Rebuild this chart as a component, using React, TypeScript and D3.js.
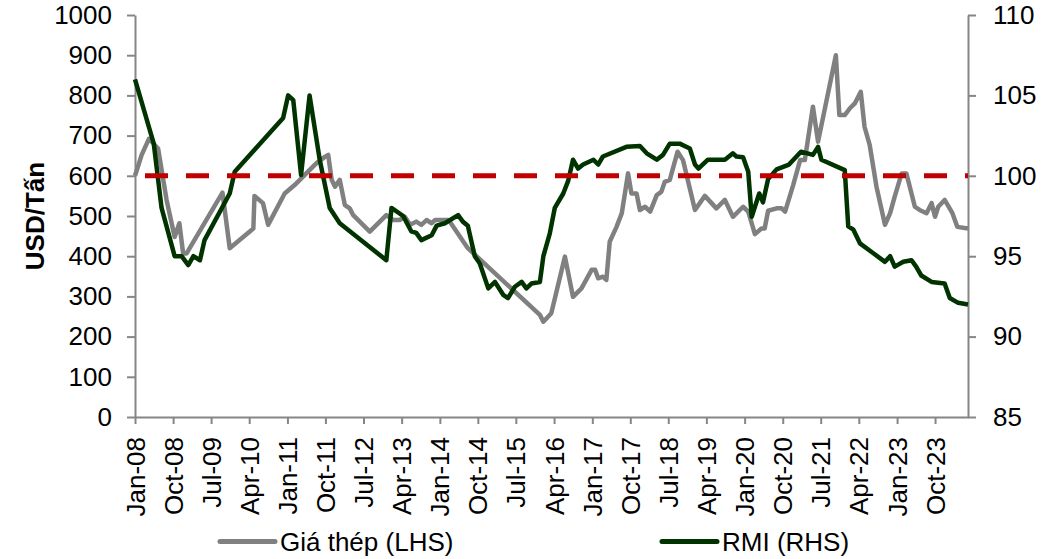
import React, { useEffect, useRef } from 'react';
import * as d3 from 'd3';

// Giá thép (LHS, USD/Tấn)
const steelDates = [
  '2008-01-01', '2008-02-18', '2008-04-10', '2008-06-15', '2008-08-15', '2008-10-12', '2008-11-15', '2008-12-12',
  '2009-01-06', '2009-09-21', '2009-11-12', '2010-05-01', '2010-05-09', '2010-07-09', '2010-08-15', '2010-12-12',
  '2011-03-06', '2011-07-27', '2011-09-27', '2011-10-21', '2011-11-15', '2011-12-09', '2012-01-12', '2012-02-18',
  '2012-03-24', '2012-04-18', '2012-08-15', '2012-12-12', '2013-02-01', '2013-03-18', '2013-04-24', '2013-06-01',
  '2013-07-15', '2013-08-21', '2013-09-27', '2013-11-03', '2013-11-27', '2014-03-01', '2014-03-15', '2014-07-21',
  '2015-12-21', '2016-01-15', '2016-03-12', '2016-06-18', '2016-08-15', '2016-10-15', '2016-12-27', '2017-01-21',
  '2017-02-12', '2017-03-18', '2017-04-12', '2017-05-06', '2017-06-24', '2017-08-01', '2017-09-15', '2017-10-09',
  '2017-11-15', '2017-12-09', '2018-01-15', '2018-02-21', '2018-04-09', '2018-05-12', '2018-06-06', '2018-07-12',
  '2018-09-06', '2018-10-15', '2019-01-09', '2019-03-21', '2019-06-12', '2019-08-12', '2019-10-09', '2019-12-21',
  '2020-01-27', '2020-03-15', '2020-05-01', '2020-05-24', '2020-06-18', '2020-08-18', '2020-09-24', '2020-10-18',
  '2020-12-15', '2021-02-03', '2021-03-09', '2021-05-06', '2021-06-12', '2021-10-18', '2021-11-12', '2021-12-21',
  '2022-01-27', '2022-03-03', '2022-04-15', '2022-05-12', '2022-06-18', '2022-08-06', '2022-10-06', '2022-11-12',
  '2022-12-15', '2023-02-03', '2023-03-09', '2023-05-09', '2023-06-12', '2023-08-01', '2023-09-06', '2023-10-01',
  '2023-10-24', '2023-12-09', '2024-02-03', '2024-03-09', '2024-05-25',
];
const steelValues = [
  600, 652, 692, 668, 540, 448, 482, 407,
  407, 558, 420, 469, 550, 532, 478, 556,
  581, 631, 647, 652, 590, 573, 590, 527,
  519, 502, 461, 502, 490, 490, 498, 478,
  486, 478, 490, 482, 490, 490, 485, 420,
  254, 237, 258, 399, 299, 320, 366, 366,
  345, 349, 341, 436, 473, 507, 606, 556,
  556, 515, 523, 511, 552, 560, 585, 590,
  660, 639, 515, 550, 519, 540, 498, 523,
  511, 455, 469, 469, 513, 519, 519, 511,
  577, 639, 639, 772, 685, 900, 751, 751,
  768, 780, 809, 722, 677, 573, 478, 507,
  548, 606, 606, 523, 515, 507, 532, 498,
  523, 540, 507, 473, 469,
];

// RMI (RHS)
const rmiDates = [
  '2008-01-01', '2008-05-15', '2008-07-10', '2008-10-12', '2008-12-01', '2009-01-18', '2009-02-24', '2009-04-12',
  '2009-05-15', '2009-11-12', '2009-12-18', '2010-12-01', '2011-01-06', '2011-02-12', '2011-04-09', '2011-06-09',
  '2011-08-21', '2011-11-01', '2012-01-12', '2012-12-12', '2013-01-18', '2013-04-12', '2013-06-09', '2013-07-15',
  '2013-08-21', '2013-11-03', '2013-12-09', '2014-02-06', '2014-05-12', '2014-06-15', '2014-07-21', '2014-09-09',
  '2014-10-15', '2014-12-15', '2015-02-01', '2015-04-01', '2015-05-06', '2015-06-24', '2015-08-12', '2015-09-15',
  '2015-10-21', '2015-12-21', '2016-01-15', '2016-03-01', '2016-04-06', '2016-06-06', '2016-07-12', '2016-08-15',
  '2016-09-21', '2016-10-27', '2017-01-09', '2017-02-12', '2017-03-18', '2017-09-03', '2017-12-09', '2018-01-27',
  '2018-04-09', '2018-05-24', '2018-07-12', '2018-09-21', '2018-12-03', '2019-01-09', '2019-02-03', '2019-04-12',
  '2019-06-12', '2019-08-12', '2019-10-09', '2019-11-03', '2019-12-21', '2020-01-27', '2020-02-21', '2020-04-15',
  '2020-05-12', '2020-06-18', '2020-08-18', '2020-11-15', '2021-02-09', '2021-05-06', '2021-06-12', '2021-07-06',
  '2021-12-21', '2022-01-15', '2022-02-21', '2022-04-09', '2022-07-12', '2022-10-06', '2022-11-12', '2022-12-15',
  '2023-02-15', '2023-04-15', '2023-05-18', '2023-06-24', '2023-09-06', '2023-12-09', '2024-01-15', '2024-03-15',
  '2024-05-25',
];
const rmiValues = [
  106.0, 102.0, 98.0, 95.0, 95.0, 94.45, 95.0, 94.75,
  96.0, 98.9, 100.25, 103.6, 105.0, 104.7, 100.05, 105.0,
  101.0, 98.0, 97.05, 94.75, 98.0, 97.5, 96.55, 96.45,
  96.0, 96.3, 96.9, 97.05, 97.55, 97.15, 96.9, 95.0,
  94.55, 93.0, 93.4, 92.6, 92.4, 93.1, 93.4, 93.0,
  93.3, 93.4, 95.0, 96.4, 98.0, 98.9, 99.7, 101.0,
  100.45, 100.7, 101.0, 100.7, 101.2, 101.8, 101.85, 101.4,
  101.0, 101.3, 102.0, 102.0, 101.7, 100.7, 100.45, 101.0,
  101.0, 101.0, 101.4, 101.2, 101.15, 100.25, 97.45, 98.9,
  98.35, 99.8, 100.4, 100.7, 101.5, 101.3, 101.8, 101.0,
  100.35, 96.85, 96.65, 95.8, 95.2, 94.65, 95.0, 94.35,
  94.65, 94.75, 94.35, 93.8, 93.4, 93.3, 92.4, 92.1,
  92.0,
];

const leftTicks = [0, 100, 200, 300, 400, 500, 600, 700, 800, 900, 1000];
const rightTicks = [85, 90, 95, 100, 105, 110];
const referenceLevel = 100;

const seriesNames = ['Giá thép (LHS)', 'RMI (RHS)'];
const seriesColors = ['#808080', '#003300'];

const FONT = '"Liberation Sans", Arial, sans-serif';

export default function App() {
  const svgRef = useRef<SVGSVGElement>(null);
  const width = 1043;
  const height = 559;

  useEffect(() => {
    if (!svgRef.current) return;
    const svg = d3.select(svgRef.current);
    svg.selectAll('*').remove();

    const margin = { top: 15, right: 75, bottom: 142, left: 135 };
    const parse = d3.timeParse('%Y-%m-%d');

    const x = d3.scaleTime()
      .domain([parse('2008-01-01')!, parse('2024-05-25')!])
      .range([margin.left, width - margin.right]);
    const yL = d3.scaleLinear().domain([0, 1000]).range([height - margin.bottom, margin.top]);
    const yR = d3.scaleLinear().domain([85, 110]).range([height - margin.bottom, margin.top]);

    const axisColor = '#868686';

    // X axis
    const xTicks = d3.timeMonth.range(parse('2008-01-01')!, parse('2024-01-01')!, 9);
    const gx = svg.append('g')
      .attr('transform', `translate(0,${height - margin.bottom})`)
      .call(d3.axisBottom(x).tickValues(xTicks).tickFormat(d3.timeFormat('%b-%y') as any).tickSize(7).tickSizeOuter(0));
    gx.selectAll('text')
      .attr('transform', 'rotate(-90)')
      .attr('text-anchor', 'end')
      .attr('x', -20)
      .attr('y', 0)
      .attr('dy', '0.35em');

    // Left axis
    const gl = svg.append('g')
      .attr('transform', `translate(${margin.left},0)`)
      .call(d3.axisLeft(yL).tickValues(leftTicks).tickFormat(d3.format('d')).tickSize(8).tickSizeOuter(0).tickPadding(15));

    // Right axis
    const gr = svg.append('g')
      .attr('transform', `translate(${width - margin.right},0)`)
      .call(d3.axisRight(yR).tickValues(rightTicks).tickFormat(d3.format('d')).tickSize(8).tickSizeOuter(0).tickPadding(17));

    [gx, gl, gr].forEach(g => {
      g.attr('font-size', 26).attr('font-family', FONT).attr('color', axisColor);
      g.selectAll('line').attr('stroke-width', 2);
      g.select('.domain').attr('stroke-width', 2);
      g.selectAll('text').attr('fill', '#000');
    });

    // Y axis title
    svg.append('text')
      .attr('transform', `translate(35,${(margin.top + height - margin.bottom) / 2}) rotate(-90)`)
      .attr('text-anchor', 'middle')
      .attr('dy', '0.35em')
      .style('font-family', FONT)
      .style('font-size', '26px')
      .style('font-weight', 'bold')
      .text('USD/Tấn');

    const steel = steelDates.map((d, i) => ({ date: parse(d)!, value: steelValues[i] }));
    const rmi = rmiDates.map((d, i) => ({ date: parse(d)!, value: rmiValues[i] }));

    const steelLine = d3.line<{ date: Date; value: number }>()
      .x(d => x(d.date))
      .y(d => yL(d.value));
    const rmiLine = d3.line<{ date: Date; value: number }>()
      .x(d => x(d.date))
      .y(d => yR(d.value));

    svg.append('path')
      .datum(steel)
      .attr('d', steelLine)
      .attr('fill', 'none')
      .attr('stroke', seriesColors[0])
      .attr('stroke-width', 4.5)
      .attr('stroke-linejoin', 'round');

    svg.append('path')
      .datum(rmi)
      .attr('d', rmiLine)
      .attr('fill', 'none')
      .attr('stroke', seriesColors[1])
      .attr('stroke-width', 4.5)
      .attr('stroke-linejoin', 'round');

    // 100 reference line
    svg.append('line')
      .attr('x1', margin.left + 10)
      .attr('x2', width - margin.right)
      .attr('y1', yR(referenceLevel))
      .attr('y2', yR(referenceLevel))
      .attr('stroke', '#C00000')
      .attr('stroke-width', 5)
      .attr('stroke-dasharray', '23 18');

    // Legend
    const legendX = [220, 662];
    seriesNames.forEach((name, i) => {
      const lg = svg.append('g').attr('transform', `translate(${legendX[i]},541.5)`);
      lg.append('line')
        .attr('x1', 0)
        .attr('x2', 55)
        .attr('stroke', seriesColors[i])
        .attr('stroke-width', 5)
        .attr('stroke-linecap', 'round');
      lg.append('text')
        .attr('x', 60)
        .attr('y', 9)
        .style('font-family', FONT)
        .style('font-size', '26px')
        .text(name);
    });
  }, []);

  return (
    <svg
      ref={svgRef}
      width={width}
      height={height}
      style={{ position: 'absolute', left: 0, top: 0, background: '#fff' }}
    />
  );
}
